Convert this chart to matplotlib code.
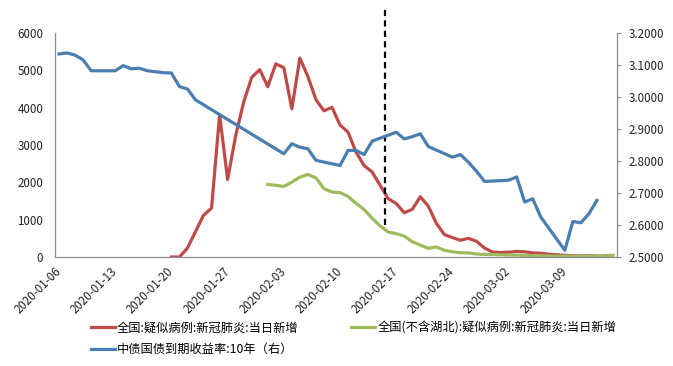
import pandas as pd
import matplotlib
matplotlib.use("Agg")
import matplotlib.pyplot as plt

plt.rcParams['font.family'] = ['Noto Sans CJK SC', 'DejaVu Sans']
plt.rcParams['axes.unicode_minus'] = False

# 全国:疑似病例:新冠肺炎:当日新增
red_dates = pd.date_range("2020-01-20", "2020-03-13", freq="D")
red_vals = [0, 0, 240, 680, 1118, 1309, 3806, 2077, 3248, 4148, 4812, 5019,
            4562, 5173, 5072, 3971, 5328, 4833, 4214, 3916, 4008, 3536, 3342,
            2807, 2450, 2277, 1918, 1563, 1432, 1185, 1277, 1614, 1361, 900,
            600, 520, 450, 500, 420, 240, 132, 120, 130, 150, 140, 110, 100,
            75, 60, 45, 35, 30, 30, 30]

# 全国(不含湖北):疑似病例:新冠肺炎:当日新增
green_dates = pd.date_range("2020-02-01", "2020-03-15", freq="D")
green_vals = [1945, 1920, 1890, 2005, 2140, 2210, 2120, 1830, 1740, 1725, 1620,
              1440, 1270, 1040, 830, 670, 625, 560, 410, 320, 230, 268, 180,
              140, 115, 110, 80, 70, 65, 60, 55, 50, 45, 40, 35, 30, 25, 22,
              20, 20, 22, 30, 38, 45]

# 中债国债到期收益率:10年(右)
blue_dates = pd.to_datetime([
    "2020-01-06", "2020-01-07", "2020-01-08", "2020-01-09", "2020-01-10",
    "2020-01-13", "2020-01-14", "2020-01-15", "2020-01-16", "2020-01-17",
    "2020-01-19", "2020-01-20", "2020-01-21", "2020-01-22", "2020-01-23",
    "2020-02-03", "2020-02-04", "2020-02-05", "2020-02-06", "2020-02-07",
    "2020-02-10", "2020-02-11", "2020-02-12", "2020-02-13", "2020-02-14",
    "2020-02-17", "2020-02-18", "2020-02-19", "2020-02-20", "2020-02-21",
    "2020-02-24", "2020-02-25", "2020-02-26", "2020-02-27", "2020-02-28",
    "2020-03-02", "2020-03-03", "2020-03-04", "2020-03-05", "2020-03-06",
    "2020-03-09", "2020-03-10", "2020-03-11", "2020-03-12", "2020-03-13"])
blue_vals = [3.1345, 3.1376, 3.1310, 3.1160, 3.0820,
             3.0820, 3.0980, 3.0880, 3.0900, 3.0820,
             3.0760, 3.0750, 3.0325, 3.0250, 2.9910,
             2.8226, 2.8540, 2.8430, 2.8380, 2.8020,
             2.7860, 2.8330, 2.8330, 2.8200, 2.8620,
             2.8900, 2.8690, 2.8760, 2.8850, 2.8450,
             2.8120, 2.8200, 2.7960, 2.7680, 2.7360,
             2.7400, 2.7500, 2.6720, 2.6820, 2.6250,
             2.5210, 2.6110, 2.6070, 2.6350, 2.6770]

tick_labels = ["2020-01-06", "2020-01-13", "2020-01-20", "2020-01-27",
               "2020-02-03", "2020-02-10", "2020-02-17", "2020-02-24",
               "2020-03-02", "2020-03-09"]
marker_date = pd.Timestamp("2020-02-15 14:00")

labels = ["全国:疑似病例:新冠肺炎:当日新增",
          "全国(不含湖北):疑似病例:新冠肺炎:当日新增",
          "中债国债到期收益率:10年（右）"]

RED, GREEN, BLUE = "#BE4B48", "#9DBB5C", "#4A7DB0"
GRAY = "#8C8C8C"

fig = plt.figure(figsize=(6.73, 3.66), dpi=100)
ax = fig.add_axes([55 / 673, 1 - 257 / 366, 562 / 673, 224 / 366])
ax2 = ax.twinx()

l1, = ax.plot(red_dates, red_vals, color=RED, lw=2.3, solid_joinstyle="round")
l2, = ax.plot(green_dates, green_vals, color=GREEN, lw=2.3, solid_joinstyle="round")
l3, = ax2.plot(blue_dates, blue_vals, color=BLUE, lw=2.3, solid_joinstyle="round")

ax.set_xlim(pd.Timestamp("2020-01-05 12:00"), pd.Timestamp("2020-03-15 12:00"))
ax.set_ylim(0, 6000)
ax2.set_ylim(2.5, 3.2)

ax.set_yticks(range(0, 6001, 1000))
ax2.set_yticks([2.5 + 0.1 * i for i in range(8)])
ax2.set_yticklabels([f"{2.5 + 0.1 * i:.4f}" for i in range(8)])

ax.set_xticks(pd.to_datetime(tick_labels))
ax.set_xticklabels(tick_labels, rotation=45, ha="right", va="center",
                   rotation_mode="anchor")

ax.tick_params(axis="x", length=0, pad=9, labelsize=8.3, colors="#222222")
ax.tick_params(axis="y", length=0, pad=8.5, labelsize=8.3, colors="#222222")
ax2.tick_params(axis="y", length=3, width=0.8, color=GRAY, pad=5.5,
                labelsize=8.3, labelcolor="#222222")

for a in (ax, ax2):
    a.spines["top"].set_visible(False)
    for s in ("left", "right", "bottom"):
        a.spines[s].set_color(GRAY)
        a.spines[s].set_linewidth(0.9)
ax.spines["right"].set_visible(False)
ax2.spines["left"].set_visible(False)
ax2.spines["bottom"].set_visible(False)

# 虚线标记
ax.vlines(marker_date, 870, 6730, colors="black", lw=1.6,
          linestyles=(0, (2.8, 1.9)), clip_on=False, zorder=5)

fig.legend([l1, l3, l2], [labels[0], labels[2], labels[1]], ncol=2,
           loc="upper left", bbox_to_anchor=(82 / 673, 1 - 313 / 366),
           frameon=False, fontsize=8.8, handlelength=2.0, handletextpad=0.15,
           columnspacing=4.3, labelspacing=0.68, borderpad=0.2)

fig.savefig("out.png", dpi=100)
